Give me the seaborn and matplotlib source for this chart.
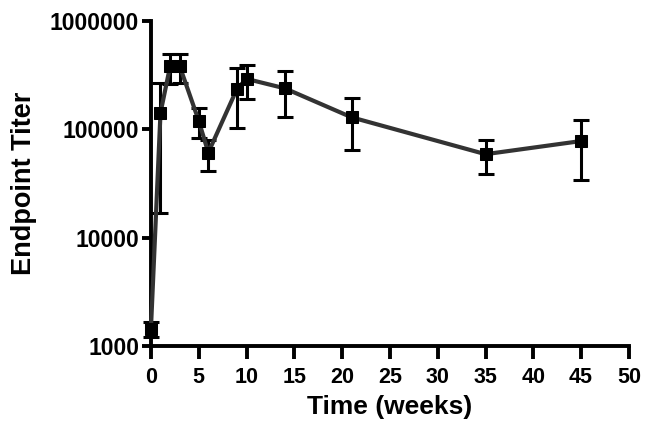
import numpy as np
import pandas as pd
import matplotlib
matplotlib.use("Agg")
import matplotlib.pyplot as plt
import matplotlib.ticker as mticker
import seaborn as sns

# data (mean +/- error, linear units)
weeks = [0, 1, 2, 3, 5, 6, 9, 10, 14, 21, 35, 45]
titer = [1450, 142000, 380000, 385000, 120000, 61000, 236000, 292000, 239000, 129000, 59000, 78000]
err = [230, 125000, 120000, 115000, 37000, 19500, 133000, 100000, 108000, 64000, 20000, 44000]

y_ticks = [1000, 10000, 100000, 1000000]
x_ticks = [0, 5, 10, 15, 20, 25, 30, 35, 40, 45, 50]

df = pd.DataFrame({"weeks": weeks, "titer": titer, "err": err})

sns.set_style("ticks")
plt.rcParams["font.family"] = ["Liberation Sans", "DejaVu Sans"]
plt.rcParams["font.weight"] = "bold"
plt.rcParams["text.color"] = "black"
plt.rcParams["axes.labelcolor"] = "black"
plt.rcParams["xtick.color"] = "black"
plt.rcParams["ytick.color"] = "black"

fig = plt.figure(figsize=(6.62, 4.36), dpi=100)
ax = fig.add_axes([0.228, 0.206, 0.722, 0.746])

# error bars first, then the line + square markers on top
ax.errorbar(df["weeks"], df["titer"], yerr=df["err"], fmt="none", ecolor="black",
            elinewidth=2.2, capsize=6, capthick=2.2, zorder=2, clip_on=False)
sns.lineplot(data=df, x="weeks", y="titer", ax=ax, color="#333333", linewidth=3,
             marker="s", markersize=9, markerfacecolor="black", markeredgecolor="black",
             zorder=3, clip_on=False)

ax.set_yscale("log")
ax.set_ylim(1000, 1000000)
ax.set_xlim(0, 50)
ax.set_yticks(y_ticks)
ax.yaxis.set_major_formatter(mticker.FuncFormatter(lambda v, p: f"{int(round(v))}"))
ax.yaxis.set_minor_locator(mticker.NullLocator())
ax.set_xticks(x_ticks)

sns.despine(ax=ax)
for s in ["left", "bottom"]:
    ax.spines[s].set_linewidth(2.8)
    ax.spines[s].set_color("black")
ax.tick_params(axis="both", which="major", width=2.8, direction="out", color="black",
               labelcolor="black")
ax.tick_params(axis="y", labelsize=16.5, pad=2, length=6.5)
ax.tick_params(axis="x", labelsize=15.5, pad=6, length=9)
for lab in ax.get_xticklabels() + ax.get_yticklabels():
    lab.set_fontweight("bold")

ax.set_xlabel("Time (weeks)", fontsize=19, fontweight="bold", labelpad=5, color="black")
ax.set_ylabel("Endpoint Titer", fontsize=19.5, fontweight="bold", labelpad=9, color="black")

fig.savefig("out.png", dpi=100)
